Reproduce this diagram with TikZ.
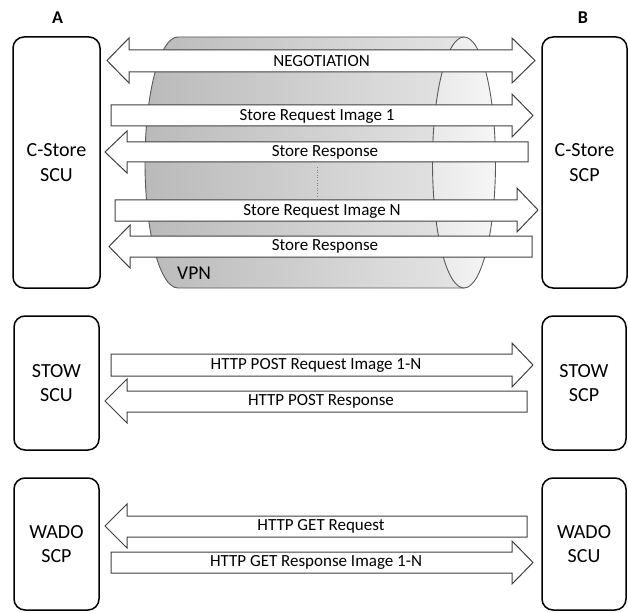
\documentclass[tikz,border=0pt]{standalone}
\usepackage{fontspec}
\setmainfont{Carlito}
\definecolor{edge}{HTML}{404040}
\definecolor{cyledge}{HTML}{5A5A5A}
\definecolor{cylL}{HTML}{BABABA}
\definecolor{cylR}{HTML}{E4E4E4}
\definecolor{capL}{HTML}{E9E9E9}
\definecolor{capR}{HTML}{F6F6F6}
\newcommand\rightblock[7]{% x1, xbase, xtip, bodytop, bodybot, headtop, headbot
  \draw[blk] (#1,#4) -- (#2,#4) -- (#2,#6) -- (#3,{(#6+#7)/2}) -- (#2,#7) -- (#2,#5) -- (#1,#5) -- cycle;}
\newcommand\leftblock[7]{% xtip, xbase, x2, bodytop, bodybot, headtop, headbot
  \draw[blk] (#1,{(#6+#7)/2}) -- (#2,#6) -- (#2,#4) -- (#3,#4) -- (#3,#5) -- (#2,#5) -- (#2,#7) -- cycle;}
\begin{document}
\begin{tikzpicture}[x=1pt,y=-1pt,
  box/.style={draw=black,line width=1.5pt,rounded corners=11pt,fill=white,align=center,
    inner sep=0pt,font=\fontsize{20}{24.5}\selectfont},
  blk/.style={draw=edge,line width=1pt,fill=white,line join=miter},
  lbl/.style={inner sep=0pt,font=\fontsize{17}{20}\selectfont},
  side/.style={inner sep=0pt,font=\fontsize{18}{20}\selectfont\bfseries}]
\useasboundingbox (0,0) rectangle (628,612);

% side headers
\node[side] (hA) at (57.5,17.5) {A};
\node[side] (hB) at (583,17.5) {B};

% VPN cylinder
\shade[left color=cylL,right color=cylR,draw=cyledge,line width=0.9pt]
  (464,37) -- (178,37) arc[start angle=270,end angle=90,x radius=33,y radius=125.5]
  -- (464,288) -- cycle;
\shade[left color=capL,right color=capR,draw=cyledge,line width=0.9pt]
  (464,162.5) ellipse[x radius=31.5,y radius=125.5];
\node[inner sep=0pt,anchor=west,font=\fontsize{19.5}{22}\selectfont] (vpn) at (177,273) {VPN};

% boxes
\node[box,minimum width=87pt,minimum height=251pt] (cscu) at (56.5,162.5) {C-Store\\SCU};
\node[box,minimum width=85pt,minimum height=251pt] (cscp) at (584.5,162.5) {C-Store\\SCP};
\node[box,minimum width=85pt,minimum height=134pt] (sscu) at (56.5,383) {STOW\\SCU};
\node[box,minimum width=84pt,minimum height=134pt] (sscp) at (584,383) {STOW\\SCP};
\node[box,minimum width=85pt,minimum height=132pt] (wscp) at (56.5,544) {WADO\\SCP};
\node[box,minimum width=84pt,minimum height=132pt] (wscu) at (584,544) {WADO\\SCU};

% NEGOTIATION double arrow
\draw[blk] (107,60.5) -- (129,38) -- (129,50) -- (512,50) -- (512,38) -- (535,60.5)
  -- (512,83) -- (512,72) -- (129,72) -- (129,83) -- cycle;
\node[lbl] (neg) at (321.5,61) {NEGOTIATION};

% C-Store exchange
\rightblock{111}{512}{533}{105}{126}{94}{137}
\node[lbl] (req1) at (317,116) {Store Request Image 1};
\leftblock{105}{127}{528}{142}{162}{131}{173}
\node[lbl] (rsp1) at (325,152.5) {Store Response};
\draw[gray,line width=0.6pt,dotted] (317,167) -- (317,197);
\rightblock{115}{517}{538}{200}{221}{188}{232}
\node[lbl] (reqN) at (322,211) {Store Request Image N};
\leftblock{109}{130}{532}{236}{257}{225}{268}
\node[lbl] (rspN) at (325,246.5) {Store Response};

% STOW exchange
\rightblock{111}{512}{533}{354}{376}{343}{387}
\node[lbl] (post) at (316,365.5) {HTTP POST Request Image 1-N};
\leftblock{105}{127}{527}{391}{412}{379}{423}
\node[lbl] (postr) at (321,401.5) {HTTP POST Response};

% WADO exchange
\leftblock{105}{127}{527}{516}{537}{504}{548}
\node[lbl] (get) at (321,526.5) {HTTP GET Request};
\rightblock{111}{512}{533}{552}{573}{541}{584}
\node[lbl] (getr) at (316,562.5) {HTTP GET Response Image 1-N};
\end{tikzpicture}
\end{document}
